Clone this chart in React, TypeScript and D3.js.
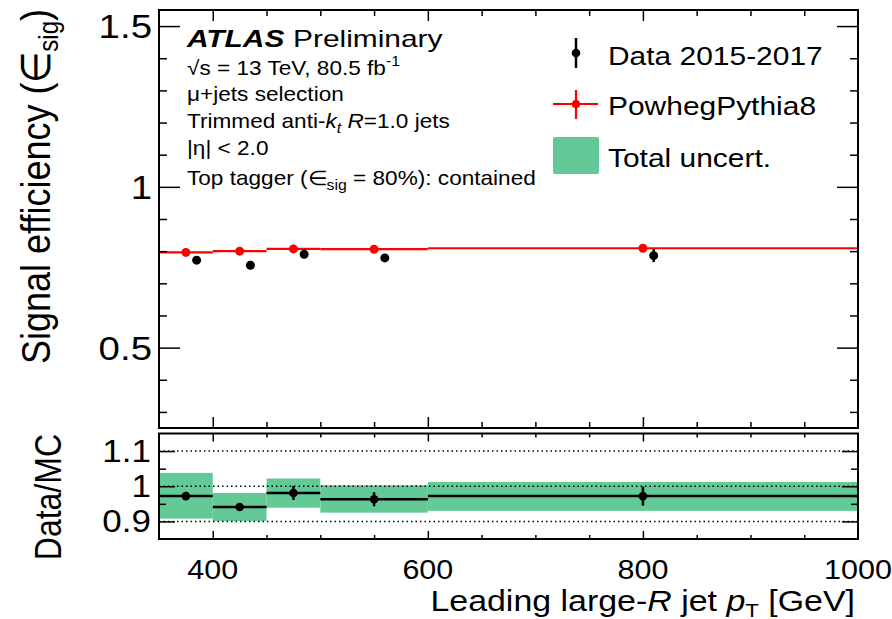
import React, { useEffect, useRef } from "react";
import * as d3 from "d3";

// bins in leading large-R jet pT [GeV]
const binEdges = [350, 400, 450, 500, 600, 1000];
const mcEff = [0.796, 0.800, 0.807, 0.806, 0.809];
const dataEff = [0.772, 0.756, 0.790, 0.779, 0.786];
const dataEffErr = [0.006, 0.006, 0.008, 0.008, 0.02];
const ratio = [0.972, 0.941, 0.981, 0.963, 0.972];
const ratioErr = [0.007, 0.007, 0.02, 0.02, 0.027];
const uncLow = [0.908, 0.901, 0.939, 0.925, 0.930];
const uncHigh = [1.038, 0.981, 1.022, 1.003, 1.012];
const dataShift = 10; // data drawn slightly to the right of the MC point

const xMajorTicks = [400, 600, 800, 1000];
const xMinorTicks = d3.range(350, 1001, 50);
const effMajorTicks = [0.5, 1, 1.5];
const effMinorTicks = [0.3, 0.4, 0.6, 0.7, 0.8, 0.9, 1.1, 1.2, 1.3, 1.4];
const ratioMajorTicks = [0.9, 1, 1.1];
const ratioMinorTicks = [0.95, 1.05];
const legendLabels = ["Data 2015-2017", "PowhegPythia8", "Total uncert."];

const FONT = "'Liberation Sans', Arial, Helvetica, sans-serif";
const SX = 1.13; // text in the original is slightly wider than tall
const GREEN = "#62c997";

function label( g: any, x: number, y: number, size: number, anchor = "start", rot = 0, sx = SX ) {
	return g.append( "text" )
		.attr( "transform", `translate(${x},${y}) scale(${sx},1)` + ( rot ? ` rotate(${rot})` : "" ) )
		.attr( "font-size", size )
		.attr( "text-anchor", anchor );
}

function span( t: any, s: string, opts: any = {} ) {
	let ts = t.append( "tspan" ).text( s );
	Object.keys( opts ).forEach( ( k ) => ts.attr( k, opts[ k ] ) );
	return ts;
}

export default function App() {
	const ref = useRef<SVGSVGElement>( null );

	useEffect( () => {
		const svg = d3.select( ref.current );
		svg.selectAll( "*" ).remove();

		const left = 159, right = 858;
		const topY0 = 10, topY1 = 428;
		const ratY0 = 433.5, ratY1 = 539;

		const x = d3.scaleLinear().domain( [ 350, 1000 ] ).range( [ left, right ] );
		const yEff = d3.scaleLinear().domain( [ 0.25, 1.55 ] ).range( [ topY1, topY0 ] );
		const yRat = d3.scaleLinear().domain( [ 0.85, 1.15 ] ).range( [ ratY1, ratY0 ] );

		const g = svg.append( "g" ).attr( "font-family", FONT ).attr( "fill", "#000" );

		const bins = d3.range( binEdges.length - 1 ).map( ( i ) => ({
			lo: binEdges[ i ], hi: binEdges[ i + 1 ], c: ( binEdges[ i ] + binEdges[ i + 1 ] ) / 2, i,
		}) );

		// ---------- ratio panel content ----------
		g.append( "g" ).selectAll( "rect" ).data( bins ).join( "rect" )
			.attr( "x", ( d ) => x( d.lo ) )
			.attr( "width", ( d ) => x( d.hi ) - x( d.lo ) )
			.attr( "y", ( d ) => yRat( uncHigh[ d.i ] ) )
			.attr( "height", ( d ) => yRat( uncLow[ d.i ] ) - yRat( uncHigh[ d.i ] ) )
			.attr( "fill", GREEN );

		g.append( "g" ).selectAll( "line" ).data( ratioMajorTicks ).join( "line" )
			.attr( "x1", left ).attr( "x2", right )
			.attr( "y1", ( d ) => yRat( d ) ).attr( "y2", ( d ) => yRat( d ) )
			.attr( "stroke", "#000" ).attr( "stroke-width", 1.5 )
			.attr( "stroke-dasharray", "1.5,3" );

		const ratG = g.append( "g" );
		bins.forEach( ( d ) => {
			ratG.append( "line" )
				.attr( "x1", x( d.lo ) ).attr( "x2", x( d.hi ) )
				.attr( "y1", yRat( ratio[ d.i ] ) ).attr( "y2", yRat( ratio[ d.i ] ) )
				.attr( "stroke", "#000" ).attr( "stroke-width", 2.5 );
			ratG.append( "line" )
				.attr( "x1", x( d.c ) ).attr( "x2", x( d.c ) )
				.attr( "y1", yRat( ratio[ d.i ] - ratioErr[ d.i ] ) ).attr( "y2", yRat( ratio[ d.i ] + ratioErr[ d.i ] ) )
				.attr( "stroke", "#000" ).attr( "stroke-width", 2.5 );
			ratG.append( "circle" )
				.attr( "cx", x( d.c ) ).attr( "cy", yRat( ratio[ d.i ] ) ).attr( "r", 4.3 )
				.attr( "fill", "#000" );
		});

		// ---------- top panel content ----------
		const topG = g.append( "g" );
		bins.forEach( ( d ) => {
			topG.append( "line" )
				.attr( "x1", x( d.lo ) ).attr( "x2", x( d.hi ) )
				.attr( "y1", yEff( mcEff[ d.i ] ) ).attr( "y2", yEff( mcEff[ d.i ] ) )
				.attr( "stroke", "#ff0000" ).attr( "stroke-width", 2.2 );
		});
		bins.forEach( ( d ) => {
			topG.append( "circle" )
				.attr( "cx", x( d.c ) ).attr( "cy", yEff( mcEff[ d.i ] ) ).attr( "r", 4.5 )
				.attr( "fill", "#ff0000" );
			topG.append( "line" )
				.attr( "x1", x( d.c + dataShift ) ).attr( "x2", x( d.c + dataShift ) )
				.attr( "y1", yEff( dataEff[ d.i ] - dataEffErr[ d.i ] ) ).attr( "y2", yEff( dataEff[ d.i ] + dataEffErr[ d.i ] ) )
				.attr( "stroke", "#000" ).attr( "stroke-width", 2.5 );
			topG.append( "circle" )
				.attr( "cx", x( d.c + dataShift ) ).attr( "cy", yEff( dataEff[ d.i ] ) ).attr( "r", 4.5 )
				.attr( "fill", "#000" );
		});

		// ---------- frames and ticks ----------
		const tickAxis = ( axis: any, pos: string, values: number[], len: number ) => {
			let a = g.append( "g" ).attr( "transform", pos )
				.call( axis.tickValues( values ).tickSize( -len ).tickFormat( () => "" ) );
			a.select( ".domain" ).remove();
			a.selectAll( "line" ).attr( "stroke-width", 1.5 );
		};

		const panels = [
			{ y: yEff, y0: topY0, y1: topY1, yMaj: effMajorTicks, yMin: effMinorTicks, yML: 21, ymL: 8, xML: 11, xmL: 6 },
			{ y: yRat, y0: ratY0, y1: ratY1, yMaj: ratioMajorTicks, yMin: ratioMinorTicks, yML: 16, ymL: 7, xML: 8, xmL: 4 },
		];
		panels.forEach( ( p ) => {
			const xMinorOnly = xMinorTicks.filter( ( v ) => xMajorTicks.indexOf( v ) < 0 && v > 350 && v < 1000 );
			const xMaj = xMajorTicks.filter( ( v ) => v < 1000 );
			tickAxis( d3.axisBottom( x ), `translate(0,${p.y1})`, xMinorOnly, p.xmL );
			tickAxis( d3.axisBottom( x ), `translate(0,${p.y1})`, xMaj, p.xML );
			tickAxis( d3.axisTop( x ), `translate(0,${p.y0})`, xMinorOnly, p.xmL );
			tickAxis( d3.axisTop( x ), `translate(0,${p.y0})`, xMaj, p.xML );
			tickAxis( d3.axisLeft( p.y ), `translate(${left},0)`, p.yMin, p.ymL );
			tickAxis( d3.axisLeft( p.y ), `translate(${left},0)`, p.yMaj, p.yML );
			tickAxis( d3.axisRight( p.y ), `translate(${right},0)`, p.yMin, p.ymL );
			tickAxis( d3.axisRight( p.y ), `translate(${right},0)`, p.yMaj, p.yML );
			g.append( "rect" )
				.attr( "x", left ).attr( "y", p.y0 )
				.attr( "width", right - left ).attr( "height", p.y1 - p.y0 )
				.attr( "fill", "none" ).attr( "stroke", "#000" ).attr( "stroke-width", 2 );
		});

		// ---------- tick labels ----------
		effMajorTicks.forEach( ( v ) => {
			label( g, 152, yEff( v ) + 12, 34, "end" ).text( String( v ) );
		});
		ratioMajorTicks.forEach( ( v ) => {
			label( g, 151, yRat( v ) + 11, 31, "end" ).text( String( v ) );
		});
		xMajorTicks.forEach( ( v ) => {
			label( g, x( v ), 578.5, 27, "middle" ).text( String( v ) );
		});

		// ---------- axis titles ----------
		let yt = label( g, 50, 9, 36, "end", -90 );
		span( yt, "Signal efficiency (\u2208" );
		span( yt, "sig", { "font-size": 24, dy: 7 } );
		span( yt, ")", { dy: -7 } );

		label( g, 61, 434, 32, "end", -90 ).text( "Data/MC" );

		let xt = label( g, 855, 610.5, 29, "end", 0, 1.17 );
		span( xt, "Leading large-" );
		span( xt, "R", { "font-style": "italic" } );
		span( xt, " jet " );
		span( xt, "p", { "font-style": "italic" } );
		span( xt, "T", { "font-size": 19, dy: 6 } );
		span( xt, " [GeV]", { dy: -6 } );

		// ---------- ATLAS text block ----------
		label( g, 187, 47, 23, "start", 0, 1.3 )
			.attr( "font-weight", "bold" ).attr( "font-style", "italic" ).text( "ATLAS" );
		label( g, 293, 47, 23, "start", 0, 1.3 ).text( "Preliminary" );

		let l2 = label( g, 187, 75, 20 );
		span( l2, "\u221As = 13 TeV, 80.5 fb" );
		span( l2, "-1", { "font-size": 14, dy: -9 } );

		label( g, 187, 101, 20 ).text( "\u03BC+jets selection" );

		let l4 = label( g, 187, 128, 20 );
		span( l4, "Trimmed anti-" );
		span( l4, "k", { "font-style": "italic" } );
		span( l4, "t", { "font-style": "italic", "font-size": 14, dy: 5 } );
		span( l4, " ", { dy: -5 } );
		span( l4, "R", { "font-style": "italic" } );
		span( l4, "=1.0 jets" );

		label( g, 187, 155, 20 ).text( "|\u03B7| < 2.0" );

		let l6 = label( g, 187, 185, 20 );
		span( l6, "Top tagger (\u2208" );
		span( l6, "sig", { "font-size": 14, dy: 5 } );
		span( l6, " = 80%): contained", { dy: -5 } );

		// ---------- legend ----------
		const lg = g.append( "g" );
		lg.append( "line" ).attr( "x1", 576 ).attr( "x2", 576 ).attr( "y1", 38 ).attr( "y2", 68 )
			.attr( "stroke", "#000" ).attr( "stroke-width", 2.5 );
		lg.append( "circle" ).attr( "cx", 576 ).attr( "cy", 53 ).attr( "r", 4.3 ).attr( "fill", "#000" );

		lg.append( "line" ).attr( "x1", 553 ).attr( "x2", 598 ).attr( "y1", 104 ).attr( "y2", 104 )
			.attr( "stroke", "#ff0000" ).attr( "stroke-width", 2.2 );
		lg.append( "line" ).attr( "x1", 576 ).attr( "x2", 576 ).attr( "y1", 90 ).attr( "y2", 119 )
			.attr( "stroke", "#ff0000" ).attr( "stroke-width", 2.2 );
		lg.append( "circle" ).attr( "cx", 576 ).attr( "cy", 104 ).attr( "r", 4.3 ).attr( "fill", "#ff0000" );

		lg.append( "rect" ).attr( "x", 553 ).attr( "y", 137 ).attr( "width", 46 ).attr( "height", 37 )
			.attr( "rx", 2 ).attr( "fill", GREEN );

		[ 65, 115, 167 ].forEach( ( by, i ) => {
			label( lg, 608, by, 26.5 ).text( legendLabels[ i ] );
		});
	}, [] );

	return (
		<svg ref={ ref } width={ 892 } height={ 619 }
			style={{ position: "absolute", left: 0, top: 0, background: "#fff" }} />
	);
}
